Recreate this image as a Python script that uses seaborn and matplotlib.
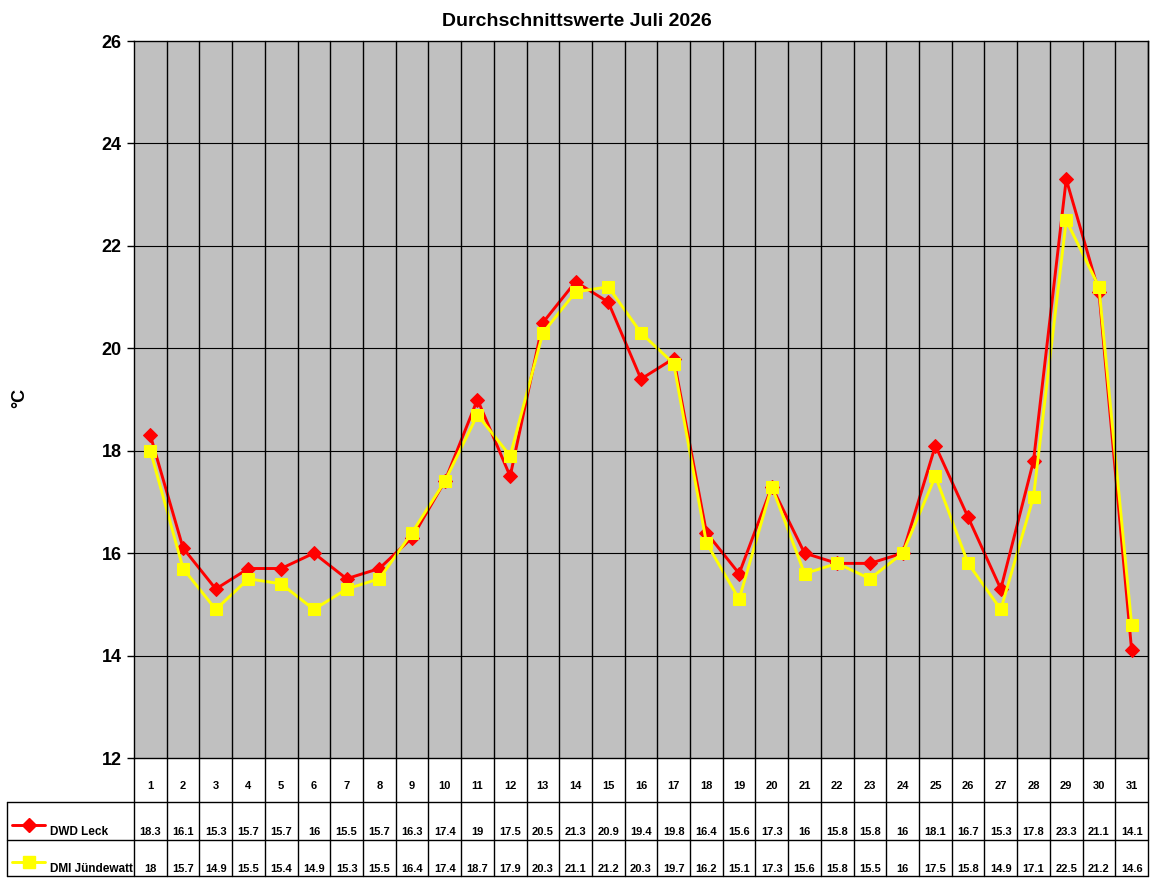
import numpy as np
import pandas as pd
import matplotlib.pyplot as plt
import seaborn as sns
from matplotlib.lines import Line2D

days = list(range(1, 32))
dwd_leck = [18.3, 16.1, 15.3, 15.7, 15.7, 16, 15.5, 15.7, 16.3, 17.4, 19, 17.5, 20.5, 21.3, 20.9, 19.4,
            19.8, 16.4, 15.6, 17.3, 16, 15.8, 15.8, 16, 18.1, 16.7, 15.3, 17.8, 23.3, 21.1, 14.1]
dmi_juendewatt = [18, 15.7, 14.9, 15.5, 15.4, 14.9, 15.3, 15.5, 16.4, 17.4, 18.7, 17.9, 20.3, 21.1, 21.2, 20.3,
                  19.7, 16.2, 15.1, 17.3, 15.6, 15.8, 15.5, 16, 17.5, 15.8, 14.9, 17.1, 22.5, 21.2, 14.6]
series_names = ['DWD Leck', 'DMI Jündewatt']
y_ticks = [12, 14, 16, 18, 20, 22, 24, 26]

sns.set_style('white')
plt.rcParams['font.family'] = ['Liberation Sans', 'DejaVu Sans']
plt.rcParams['text.color'] = 'black'
plt.rcParams['ytick.color'] = 'black'
plt.rcParams['ytick.labelcolor'] = 'black'

W, H = 1152, 882
fig = plt.figure(figsize=(W / 100, H / 100), dpi=100)
ax = fig.add_axes([134 / W, 1 - 758 / H, (1148 - 134) / W, (758 - 41) / H])
ax.set_facecolor('#C0C0C0')

df = pd.DataFrame({'day': days, series_names[0]: dwd_leck, series_names[1]: dmi_juendewatt})

# horizontale Gitterlinien
for yv in y_ticks[1:-1]:
    ax.axhline(yv, color='black', lw=0.8, zorder=1)

sns.lineplot(data=df, x='day', y=series_names[0], ax=ax, color='#FF0000', lw=2.1,
             marker='D', markersize=7, markeredgecolor='#FF0000', zorder=3)
sns.lineplot(data=df, x='day', y=series_names[1], ax=ax, color='#FFFF00', lw=2.1,
             marker='s', markersize=9, markeredgecolor='#FFFF00', zorder=4)

ax.set_xlim(0.5, 31.5)
ax.set_ylim(12, 26)
ax.set_yticks(y_ticks)
ax.set_yticklabels([str(t) for t in y_ticks], fontsize=13, fontweight='bold', color='black')
ax.set_xticks([])
ax.set_xlabel('')
ax.set_ylabel('')
ax.tick_params(axis='y', length=5, width=1, direction='out', left=True, pad=4, color='black')
for s in ax.spines.values():
    s.set_color('black')
    s.set_linewidth(1)

fig.text(577 / W, 1 - 22 / H, 'Durchschnittswerte Juli 2026', fontsize=14, fontweight='bold',
         ha='center', va='center')
fig.text(20 / W, 1 - 398 / H, '°C', rotation=90, fontsize=13, fontweight='bold', ha='center', va='center')


def fx(px):
    return px / W


def fy(py):
    return 1 - py / H


def fline(x0, y0, x1, y1, **kw):
    fig.add_artist(Line2D([fx(x0), fx(x1)], [fy(y0), fy(y1)], transform=fig.transFigure,
                          color='black', lw=1, **kw))


col_w = (1148 - 134) / 31
# senkrechte Spaltenlinien durch Diagramm und Tabelle
for i in range(1, 32):
    xp = 134 + i * col_w
    fline(xp, 41, xp, 876)
fline(134, 758, 134, 876)
# Tabellenlinien
fline(6.7, 802, 1148, 802)
fline(6.7, 840, 1148, 840)
fline(6.7, 876, 1148, 876)
fline(6.7, 802, 6.7, 876)

rows = [dwd_leck, dmi_juendewatt]
row_text_y = [832, 869]
for i, d in enumerate(days):
    xc = 134 + (i + 0.5) * col_w
    fig.text(fx(xc), fy(786), str(d), ha='center', va='center', fontsize=8, fontweight='bold')
    for vals, ty in zip(rows, row_text_y):
        fig.text(fx(xc), fy(ty), f'{vals[i]:g}', ha='center', va='center', fontsize=8, fontweight='bold')

# Legendensymbole in der Tabelle
fig.add_artist(Line2D([fx(12), fx(29), fx(45)], [fy(825), fy(825), fy(825)], transform=fig.transFigure,
                      color='#FF0000', lw=2.1, marker='D', markersize=7, markevery=[1],
                      markeredgecolor='#FF0000'))
fig.add_artist(Line2D([fx(12), fx(29), fx(45)], [fy(862), fy(862), fy(862)], transform=fig.transFigure,
                      color='#FFFF00', lw=2.1, marker='s', markersize=9, markevery=[1],
                      markeredgecolor='#FFFF00'))
for name, ty in zip(series_names, row_text_y):
    fig.text(fx(50), fy(ty), name, ha='left', va='center', fontsize=8.5, fontweight='bold')

fig.savefig('out.png', dpi=100, facecolor='white')
